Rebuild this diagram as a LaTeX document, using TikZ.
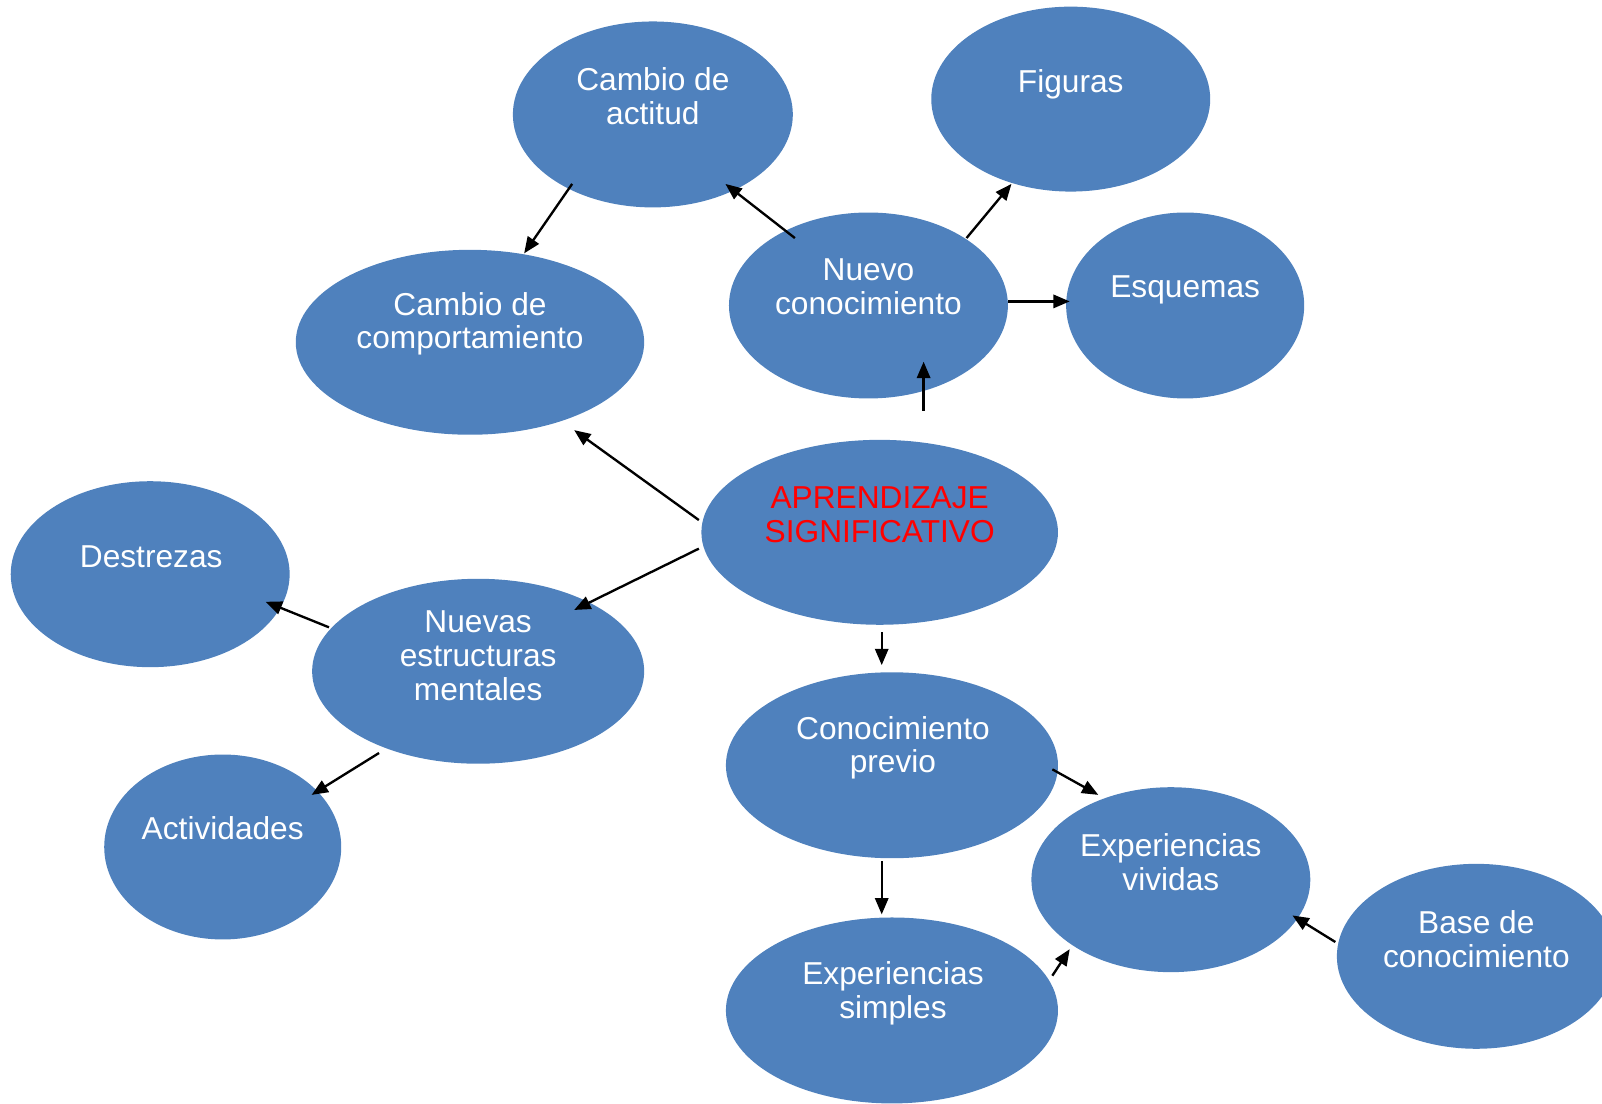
\documentclass[tikz,border=0pt]{standalone}
\usepackage{fontspec}
\setmainfont{Liberation Sans}
\usetikzlibrary{shapes.geometric,arrows.meta,calc}
\definecolor{bubblue}{RGB}{79,129,189}
\begin{document}
\begin{tikzpicture}[x=1pt,y=-1pt,
  bub/.style={ellipse, fill=bubblue, draw=none, inner sep=0pt},
  lab/.style={text=white, align=center, font=\fontsize{31}{33}\selectfont, inner sep=0pt},
  arr/.style={line width=2.3pt, -{Triangle[length=16pt,width=13pt]}}]
\useasboundingbox (0,0) rectangle (1568,1080);
\clip (0,0) rectangle (1568,1080);
% bubbles
\node[bub, minimum width=274pt, minimum height=182pt] (ca)  at (639,112)  {};
\node[bub, minimum width=273pt, minimum height=181pt] (fig) at (1048,97)  {};
\node[bub, minimum width=341pt, minimum height=181pt] (cc)  at (460,335)  {};
\node[bub, minimum width=273pt, minimum height=182pt] (nc)  at (850,299)  {};
\node[bub, minimum width=233pt, minimum height=182pt] (esq) at (1160,299) {};
\node[bub, minimum width=349pt, minimum height=181pt] (ap)  at (861,521)  {};
\node[bub, minimum width=273pt, minimum height=182pt] (des) at (147,562)  {};
\node[bub, minimum width=325pt, minimum height=181pt] (nem) at (468,657)  {};
\node[bub, minimum width=232pt, minimum height=181pt] (act) at (218,829)  {};
\node[bub, minimum width=325pt, minimum height=182pt] (cp)  at (873,749)  {};
\node[bub, minimum width=273pt, minimum height=181pt] (ev)  at (1146,861) {};
\node[bub, minimum width=325pt, minimum height=182pt] (es)  at (873,989)  {};
\node[bub, minimum width=273pt, minimum height=181pt] (bc)  at (1445,936) {};
% labels
\node[lab] (tca)  at (639,94)   {Cambio de\\actitud};
\node[lab] (tfig) at (1048,83)  {Figuras};
\node[lab] (tcc)  at (460,317)  {Cambio de\\comportamiento};
\node[lab] (tnc)  at (850,281)  {Nuevo\\conocimiento};
\node[lab] (tesq) at (1160,284) {Esquemas};
\node[lab, text=red] (tap) at (861,504) {APRENDIZAJE\\SIGNIFICATIVO};
\node[lab] (tdes) at (148,545)  {Destrezas};
\node[lab] (tnem) at (468,642)  {Nuevas\\estructuras\\mentales};
\node[lab] (tact) at (218,811)  {Actividades};
\node[lab] (tcp)  at (874,732)  {Conocimiento\\previo};
\node[lab] (tev)  at (1146,844) {Experiencias\\vividas};
\node[lab] (tes)  at (874,972)  {Experiencias\\simples};
\node[lab] (tbc)  at (1445,919) {Base de\\conocimiento};
% connectors
\draw[arr] ($(ca)+(-79,68)$)   -- ($(cc)+(53,-87)$);
\draw[arr] ($(nc)+(-72,-66)$)  -- ($(ca)+(71,68)$);
\draw[arr] ($(nc)+(96,-66)$)   -- ($(fig)+(-58,83)$);
\draw[arr] ($(nc)+(137,-4)$)   -- ($(esq)+(-113,-4)$);
\draw[arr] ($(ap)+(43,-119)$)  -- ($(nc)+(54,55)$);
\draw[arr] ($(ap)+(-177,-12)$) -- ($(cc)+(102,86)$);
\draw[arr] ($(ap)+(-177,16)$)  -- ($(nem)+(94,-60)$);
\draw[arr] ($(nem)+(-146,-43)$) -- ($(des)+(113,27)$);
\draw[arr] ($(nem)+(-97,80)$)  -- ($(act)+(87,-51)$);
\draw[arr] ($(ap)+(2,98)$)     -- ($(cp)+(-10,-98)$);
\draw[arr] ($(cp)+(157,4)$)    -- ($(ev)+(-71,-83)$);
\draw[arr] ($(cp)+(-10,94)$)   -- ($(es)+(-10,-94)$);
\draw[arr] ($(es)+(157,-34)$)  -- ($(ev)+(-99,68)$);
\draw[arr] ($(bc)+(-138,-14)$) -- ($(ev)+(119,35)$);
\end{tikzpicture}
\end{document}
